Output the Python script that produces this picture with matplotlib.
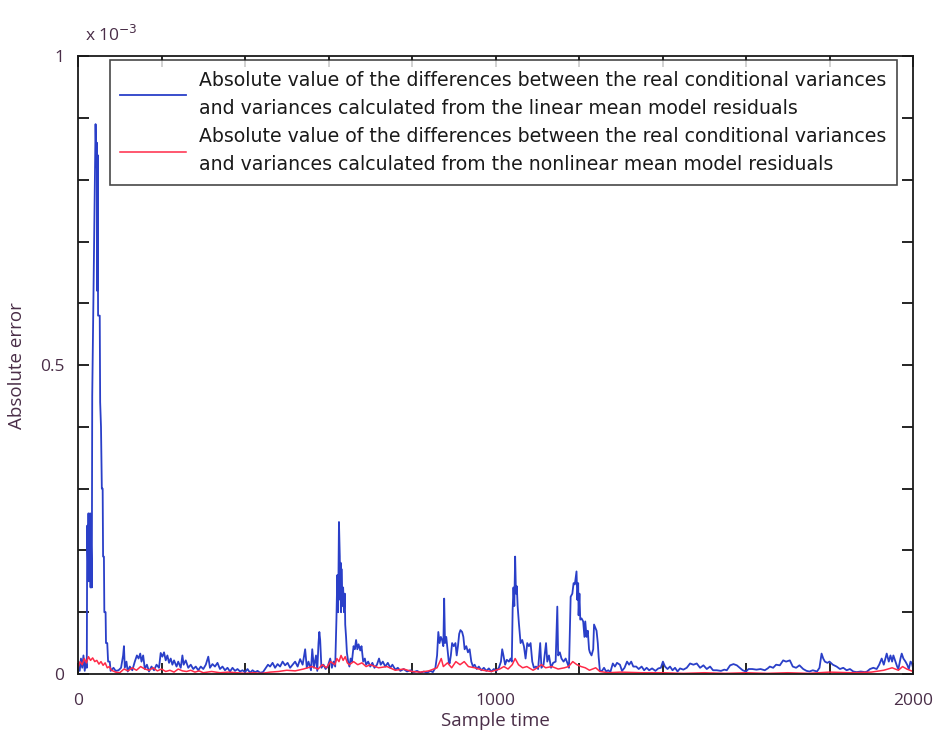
import numpy as np
import matplotlib
matplotlib.use('Agg')
import matplotlib.pyplot as plt
from matplotlib.ticker import MultipleLocator, FuncFormatter

# values, in units of 1e-3
lin_t = [0, 4, 7, 10, 13, 16, 19, 21, 22, 24, 25, 26, 27, 28, 29, 30, 31, 33, 34, 37, 40, 42, 43, 44, 45, 46, 47, 48,
         50, 52, 53, 55, 57, 59, 60, 62, 63, 66, 67, 70, 72, 76, 78, 85, 90,
         97, 103, 108, 110, 112, 116, 119, 124, 130, 136, 141, 145, 149, 152, 156, 160, 165, 170, 176, 182, 188, 194,
         198, 202, 206, 210, 214, 218, 222, 226, 230, 236, 240, 246, 250, 253, 258, 264, 270, 276, 282, 288, 294, 300,
         306, 312, 316, 322, 328, 334, 340, 346, 352, 358, 364, 370, 376, 382, 388, 394, 400, 406, 412, 418, 424, 430,
         436, 443, 450, 455, 460, 466, 472, 478, 484, 490, 496, 502, 508, 514, 520, 526, 532, 538, 544, 548, 552, 558,
         561, 565, 570, 573, 576, 578, 580, 583, 588, 593, 598, 604, 608, 612, 616, 619, 621, 623, 625, 627, 628, 629,
         630, 631, 633, 635, 637, 639, 640, 642, 644, 647, 650, 653, 656, 660, 663, 666, 669, 672, 676, 679, 683, 687,
         690, 695, 700, 705, 710, 716, 721, 725, 730, 736, 742, 748, 753, 760, 766, 772, 780, 788, 796, 804, 812, 820,
         828, 836, 844, 850, 856, 860, 863, 866, 869, 872, 875, 877, 879, 882, 885, 888, 890, 893, 896, 900, 904, 907,
         910, 913, 916, 920, 923, 926, 930, 934, 938, 942, 946, 950, 955, 960, 966, 972, 978, 984, 990, 996, 1002,
         1008, 1013, 1016, 1019, 1023, 1027, 1032, 1036, 1039, 1041, 1043, 1045, 1047, 1049, 1051, 1053, 1056, 1060,
         1064, 1068, 1072, 1076, 1080, 1084, 1088, 1092, 1097, 1102, 1107, 1110, 1115, 1121, 1124, 1128, 1133, 1138,
         1144, 1148, 1150, 1154, 1158, 1163, 1168, 1172, 1176, 1180, 1184, 1187, 1190, 1192, 1194, 1196, 1198, 1199,
         1201, 1203, 1206, 1210, 1213, 1215, 1218, 1221, 1224, 1226, 1230, 1234, 1236, 1239, 1242, 1245, 1247, 1250,
         1255, 1260, 1265, 1270, 1275, 1281, 1286, 1291, 1298, 1303, 1309, 1315, 1320, 1325, 1330, 1337, 1343, 1350,
         1356, 1362, 1368, 1375, 1383, 1390, 1396, 1401, 1406, 1412, 1418, 1424, 1430, 1436, 1442, 1450, 1458, 1466,
         1474, 1482, 1490, 1498, 1506, 1514, 1521, 1530, 1540, 1548, 1554, 1562, 1570, 1578, 1585, 1592, 1600, 1606,
         1615, 1625, 1635, 1645, 1652, 1657, 1665, 1672, 1681, 1689, 1696, 1705, 1712, 1720, 1728, 1737, 1745, 1752,
         1760, 1770, 1776, 1781, 1785, 1789, 1795, 1800, 1808, 1817, 1825, 1833, 1841, 1849, 1857, 1865, 1875, 1885,
         1890, 1897, 1905, 1913, 1919, 1925, 1930, 1937, 1942, 1946, 1950, 1953, 1958, 1962, 1965, 1970, 1973, 1977,
         1982, 1986, 1990, 1994, 1997, 2000]
lin_v = [0.02, 0.005, 0.025, 0.01, 0.03, 0.005, 0.02, 0.01, 0.24, 0.17, 0.26, 0.15, 0.25, 0.17, 0.26, 0.14, 0.22, 0.14,
         0.45, 0.62, 0.80, 0.89, 0.85, 0.82, 0.86, 0.62, 0.84, 0.58,
         0.58, 0.58, 0.44, 0.40, 0.30, 0.30, 0.19, 0.19, 0.10, 0.10, 0.05, 0.05, 0.02, 0.02, 0.005, 0.01, 0.005,
         0.006, 0.01, 0.03, 0.045, 0.01, 0.02, 0.004, 0.012, 0.006, 0.02, 0.03, 0.025, 0.033, 0.02, 0.03, 0.008, 0.015,
         0.004, 0.012, 0.006, 0.015, 0.01,
         0.034, 0.028, 0.035, 0.022, 0.03, 0.018, 0.025, 0.015, 0.022, 0.012, 0.02, 0.01, 0.03, 0.015, 0.022, 0.01,
         0.015, 0.008, 0.012, 0.006, 0.012, 0.008,
         0.015, 0.028, 0.01, 0.016, 0.012, 0.018, 0.008, 0.012, 0.006, 0.01, 0.004, 0.01, 0.005, 0.008, 0.004, 0.006,
         0.003, 0.008, 0.002, 0.006, 0.003, 0.005,
         0.002, 0.003, 0.01, 0.015, 0.012, 0.018, 0.01, 0.016, 0.012, 0.02, 0.014, 0.018, 0.01, 0.015, 0.02, 0.012,
         0.024, 0.015, 0.04, 0.01, 0.02, 0.006,
         0.04, 0.01, 0.03, 0.005, 0.05, 0.068, 0.055, 0.01, 0.015, 0.008, 0.012, 0.025, 0.01, 0.02, 0.012, 0.09, 0.16,
         0.10, 0.246, 0.19, 0.12, 0.18,
         0.10, 0.17, 0.11, 0.14, 0.10, 0.13, 0.08, 0.06, 0.035, 0.02, 0.012, 0.025, 0.02, 0.045, 0.04, 0.055, 0.04,
         0.048, 0.038, 0.045, 0.02, 0.025,
         0.015, 0.02, 0.012, 0.018, 0.01, 0.015, 0.025, 0.015, 0.02, 0.012, 0.018, 0.01, 0.015, 0.007, 0.01, 0.005,
         0.008, 0.004, 0.006, 0.003, 0.005, 0.002,
         0.004, 0.002, 0.005, 0.003, 0.01, 0.03, 0.068, 0.05, 0.06, 0.055, 0.045, 0.122, 0.05, 0.06, 0.04, 0.02, 0.017,
         0.03, 0.05, 0.045, 0.05, 0.03,
         0.045, 0.065, 0.071, 0.068, 0.06, 0.04, 0.045, 0.035, 0.04, 0.02, 0.012, 0.015, 0.008, 0.012, 0.006, 0.01,
         0.005, 0.009, 0.004, 0.008, 0.005,
         0.01, 0.02, 0.04, 0.03, 0.015, 0.023, 0.02, 0.025, 0.02, 0.104, 0.14, 0.11, 0.19, 0.13, 0.142, 0.11, 0.082,
         0.05,
         0.055, 0.045, 0.025, 0.05, 0.045, 0.05, 0.02, 0.01, 0.012, 0.008, 0.05, 0.01, 0.015, 0.05, 0.02, 0.03, 0.01,
         0.018,
         0.02, 0.109, 0.03, 0.035, 0.025, 0.02, 0.025, 0.018, 0.01, 0.125, 0.13, 0.147, 0.145, 0.155, 0.166, 0.12,
         0.147, 0.095,
         0.13, 0.088, 0.09, 0.085, 0.06, 0.085, 0.06, 0.07, 0.04, 0.035, 0.03, 0.04, 0.08, 0.075, 0.07, 0.05, 0.028,
         0.005,
         0.005, 0.01, 0.004, 0.006, 0.003, 0.017, 0.012, 0.018, 0.015, 0.005, 0.01, 0.02, 0.015, 0.02, 0.012, 0.012,
         0.008, 0.012,
         0.006, 0.01, 0.006, 0.009, 0.005, 0.009, 0.01, 0.02, 0.012, 0.008, 0.012, 0.006, 0.01, 0.004, 0.009, 0.007,
         0.01, 0.017,
         0.015, 0.017, 0.01, 0.014, 0.008, 0.012, 0.006, 0.006, 0.005, 0.007, 0.006, 0.014, 0.016, 0.014, 0.01, 0.006,
         0.004, 0.008,
         0.008, 0.007, 0.008, 0.006, 0.009, 0.012, 0.01, 0.015, 0.014, 0.022, 0.02, 0.022, 0.012, 0.01, 0.014, 0.008,
         0.005, 0.004,
         0.006, 0.004, 0.01, 0.033, 0.025, 0.02, 0.018, 0.02, 0.015, 0.012, 0.008, 0.01, 0.006, 0.008, 0.004, 0.003,
         0.004, 0.003,
         0.004, 0.008, 0.01, 0.008, 0.015, 0.025, 0.015, 0.033, 0.02, 0.03, 0.02, 0.03, 0.02, 0.012, 0.008, 0.025,
         0.033, 0.025,
         0.02, 0.015, 0.008, 0.02, 0.018, 0.01]

nl_t = [0, 5, 10, 15, 20, 25, 30, 35, 40, 45, 50, 55, 60, 65, 70, 75, 80, 90, 100, 110, 120, 130, 140, 150, 160,
        170, 180, 190, 200, 210, 220, 230, 240, 250, 260, 270, 280, 290, 300, 320, 340, 360, 380, 400, 420, 440,
        460, 480, 500, 520, 540, 560, 575, 585, 595, 605, 615, 620, 625, 630, 635, 640, 645, 650, 660, 670, 680,
        690, 700, 720, 740, 760, 780, 800, 820, 840, 860, 870, 875, 885, 895, 905, 915, 925, 935, 950, 970, 990,
        1010, 1020, 1030, 1040, 1047, 1055, 1065, 1075, 1090, 1100, 1110, 1120, 1135, 1150, 1165, 1175, 1185, 1195,
        1205, 1215, 1225, 1240, 1250, 1270, 1300, 1350, 1400, 1450, 1500, 1550, 1600, 1650, 1700, 1750, 1800, 1850,
        1900, 1930, 1950, 1965, 1975, 1985, 2000]
nl_v = [0.01, 0.02, 0.015, 0.025, 0.018, 0.028, 0.022, 0.026, 0.02, 0.022, 0.016, 0.02, 0.014, 0.018, 0.01, 0.012,
        0.006, 0.003, 0.002, 0.008, 0.005, 0.01, 0.006, 0.012, 0.008, 0.006, 0.01, 0.005, 0.008, 0.004, 0.006, 0.003,
        0.008, 0.005, 0.004, 0.006, 0.003, 0.005, 0.002, 0.004, 0.002, 0.003, 0.002, 0.001, 0.002, 0.001, 0.003,
        0.004, 0.006, 0.005, 0.008, 0.012, 0.008, 0.015, 0.01, 0.02, 0.015, 0.025, 0.02, 0.03, 0.022, 0.028, 0.018,
        0.015, 0.02, 0.015, 0.018, 0.012, 0.015, 0.01, 0.012, 0.006, 0.008, 0.004, 0.003, 0.005, 0.01, 0.025, 0.012,
        0.018, 0.01, 0.02, 0.015, 0.02, 0.012, 0.01, 0.006, 0.004, 0.008, 0.012, 0.008, 0.015, 0.025, 0.015, 0.01,
        0.012, 0.006, 0.01, 0.015, 0.01, 0.012, 0.008, 0.01, 0.012, 0.02, 0.015, 0.012, 0.01, 0.006, 0.01, 0.004,
        0.002, 0.003, 0.002, 0.002, 0.001, 0.002, 0.001, 0.002, 0.001, 0.002, 0.001, 0.003, 0.002, 0.003, 0.006,
        0.01, 0.006, 0.012, 0.008, 0.004]

lin_label = ('Absolute value of the differences between the real conditional variances\n'
             'and variances calculated from the linear mean model residuals')
nl_label = ('Absolute value of the differences between the real conditional variances\n'
            'and variances calculated from the nonlinear mean model residuals')

txt_col = '#4a2e48'

fig = plt.figure(figsize=(9.47, 7.39), dpi=100)
ax = fig.add_axes([0.0824, 0.088, 0.8817, 0.836])

ax.plot(lin_t, lin_v, color='#2a3fc8', lw=1.3, label=lin_label)
ax.plot(nl_t, nl_v, color='#ff2a48', lw=1.1, label=nl_label)

ax.set_xlim(0, 2000)
ax.set_ylim(0, 1)
ax.xaxis.set_major_locator(MultipleLocator(200))
ax.yaxis.set_major_locator(MultipleLocator(0.1))
ax.xaxis.set_major_formatter(FuncFormatter(lambda v, p: '%d' % v if round(v) % 1000 == 0 else ''))
ax.yaxis.set_major_formatter(FuncFormatter(lambda v, p: ('%g' % round(v, 1)) if abs(v * 2 - round(v * 2)) < 1e-6 else ''))
ax.tick_params(direction='in', length=8, width=1.2, top=True, right=True,
               labelsize=12.5, labelcolor=txt_col)
ax.tick_params(axis='x', pad=14)
ax.tick_params(axis='y', pad=10)
for tl in ax.get_xticklabels() + ax.get_yticklabels():
    tl.set_fontfamily('Open Sans')
for s in ax.spines.values():
    s.set_linewidth(1.3)
    s.set_color('#1a1a1a')

ax.set_xlabel('Sample time', fontsize=13.5, color=txt_col, family='Open Sans', labelpad=2)
ax.set_ylabel('Absolute error', fontsize=13.5, color=txt_col, family='Open Sans', labelpad=10)
fig.text(0.09, 0.945, r'x 10$^{-3}$', fontsize=12.5, color=txt_col, family='Open Sans')

leg = ax.legend(loc='upper left', bbox_to_anchor=(0.038, 0.993), borderaxespad=0,
                prop={'family': 'DejaVu Sans', 'size': 13.6},
                frameon=True, fancybox=False, edgecolor='#1a1a1a',
                handlelength=3.5, handletextpad=0.7, labelspacing=0.5, borderpad=0.55)
leg.get_frame().set_linewidth(1.2)
for t in leg.get_texts():
    t.set_color('#1a1a1a')
    t.set_linespacing(1.6)

fig.savefig('out.png', dpi=100)
